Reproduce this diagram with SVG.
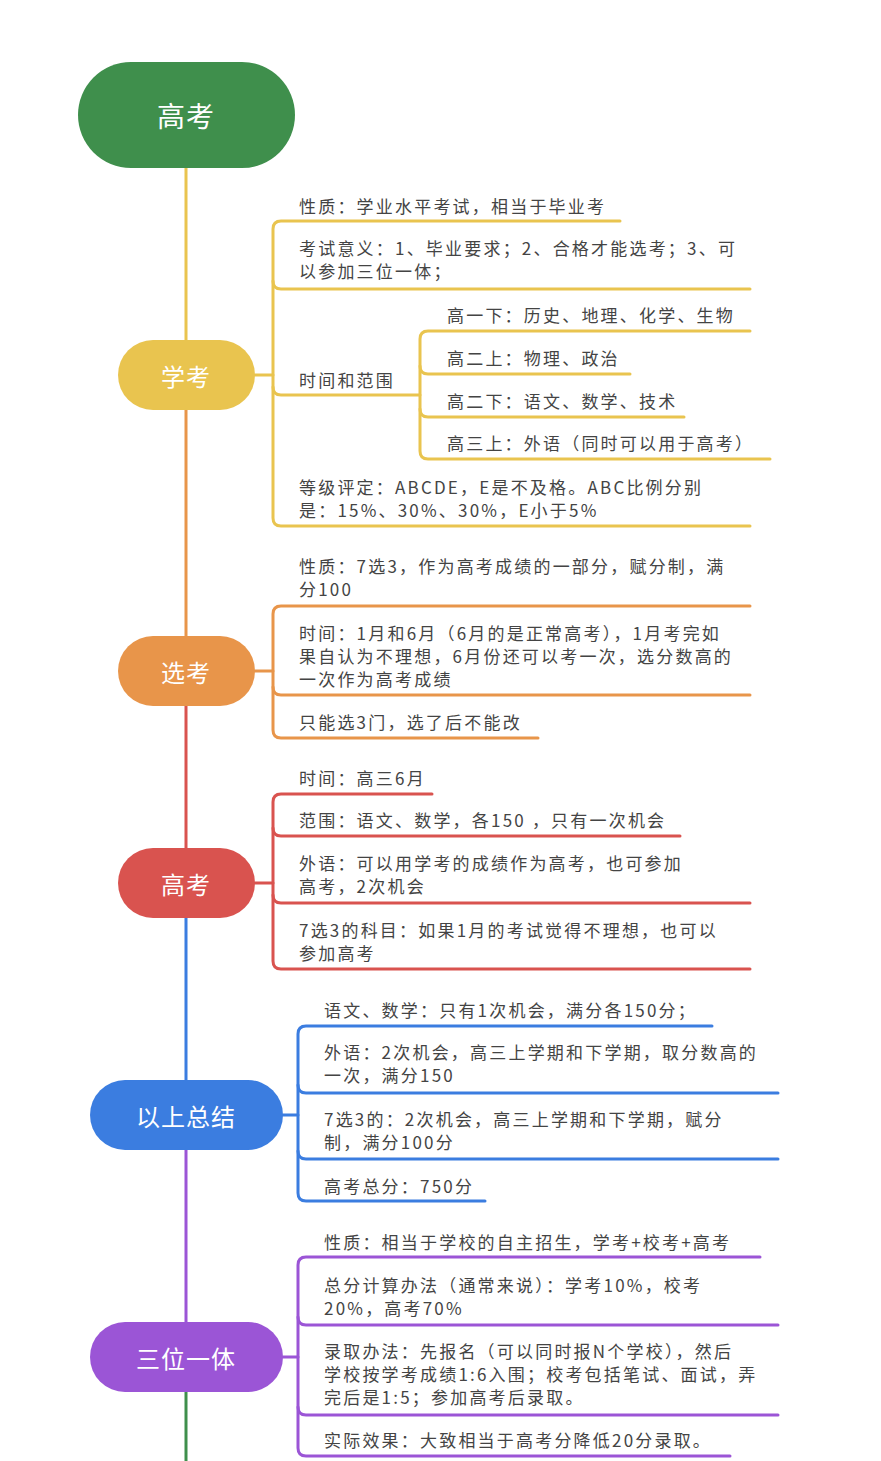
<svg xmlns="http://www.w3.org/2000/svg" width="881" height="1461" viewBox="0 0 881 1461">
<style>
text{font-family:"Noto Sans CJK SC","Noto Sans",sans-serif;font-size:17px;letter-spacing:2.2px;fill:#444}
.n{fill:#fff;font-size:24px;letter-spacing:1px;text-anchor:middle;dominant-baseline:central}
path,line{fill:none;stroke-width:3;stroke-linecap:round}
.y{stroke:#e9c44f}.o{stroke:#e8954a}.r{stroke:#d9534f}.b{stroke:#3b7de0}.p{stroke:#9b55d6}.g{stroke:#3f8f4c}
</style>
<rect width="881" height="1461" fill="#fff"/>
<g id="connectors">
<line class="y" x1="186" y1="168" x2="186" y2="340"/>
<line class="o" x1="186" y1="410" x2="186" y2="636"/>
<line class="r" x1="186" y1="706" x2="186" y2="848"/>
<line class="b" x1="186" y1="918" x2="186" y2="1080"/>
<line class="p" x1="186" y1="1150" x2="186" y2="1322"/>
<line class="g" x1="186" y1="1392" x2="186" y2="1461"/>
<line class="y" x1="255" y1="375" x2="273" y2="375"/>
<path class="y" d="M620,221 H281 Q273,221 273,229 V518 Q273,526 281,526 H750"/>
<path class="y" d="M273,281 Q273,289 281,289 H750"/>
<path class="y" d="M273,387 Q273,395 281,395 H420"/>
<path class="y" d="M750,331 H428 Q420,331 420,339 V451 Q420,459 428,459 H770"/>
<path class="y" d="M420,366 Q420,374 428,374 H630"/>
<path class="y" d="M420,409 Q420,417 428,417 H684"/>
<line class="o" x1="255" y1="671" x2="273" y2="671"/>
<path class="o" d="M750,606 H281 Q273,606 273,614 V730 Q273,738 281,738 H538"/>
<path class="o" d="M273,687 Q273,695 281,695 H750"/>
<line class="r" x1="255" y1="883" x2="273" y2="883"/>
<path class="r" d="M432,794 H281 Q273,794 273,802 V961 Q273,969 281,969 H750"/>
<path class="r" d="M273,828 Q273,836 281,836 H680"/>
<path class="r" d="M273,895 Q273,903 281,903 H750"/>
<line class="b" x1="283" y1="1115" x2="298" y2="1115"/>
<path class="b" d="M712,1026 H306 Q298,1026 298,1034 V1193 Q298,1201 306,1201 H485"/>
<path class="b" d="M298,1085 Q298,1093 306,1093 H778"/>
<path class="b" d="M298,1151 Q298,1159 306,1159 H778"/>
<line class="p" x1="283" y1="1357" x2="298" y2="1357"/>
<path class="p" d="M760,1257 H306 Q298,1257 298,1265 V1448 Q298,1456 306,1456 H730"/>
<path class="p" d="M298,1317 Q298,1325 306,1325 H778"/>
<path class="p" d="M298,1407 Q298,1415 306,1415 H778"/>
</g>
<g id="root"><rect x="78" y="62" width="217" height="106" rx="53" fill="#3f8f4c"/><text class="n" x="186" y="115" style="font-size:28px">高考</text></g>
<g id="xuekao"><rect x="118" y="340" width="137" height="70" rx="35" fill="#e9c44f"/><text class="n" x="186" y="375">学考</text></g>
<g id="xuankao"><rect x="118" y="636" width="137" height="70" rx="35" fill="#e8954a"/><text class="n" x="186" y="671">选考</text></g>
<g id="gaokao"><rect x="118" y="848" width="137" height="70" rx="35" fill="#d9534f"/><text class="n" x="186" y="883">高考</text></g>
<g id="summary"><rect x="90" y="1080" width="193" height="70" rx="35" fill="#3b7de0"/><text class="n" x="186" y="1115">以上总结</text></g>
<g id="sanwei"><rect x="90" y="1322" width="193" height="70" rx="35" fill="#9b55d6"/><text class="n" x="186" y="1357">三位一体</text></g>
<g id="texts">
<text x="299" y="213">性质：学业水平考试，相当于毕业考</text>
<text x="299" y="255">考试意义：1、毕业要求；2、合格才能选考；3、可</text>
<text x="299" y="278">以参加三位一体；</text>
<text x="299" y="387">时间和范围</text>
<text x="447" y="322">高一下：历史、地理、化学、生物</text>
<text x="447" y="365">高二上：物理、政治</text>
<text x="447" y="408">高二下：语文、数学、技术</text>
<text x="447" y="450">高三上：外语（同时可以用于高考）</text>
<text x="299" y="494">等级评定：ABCDE，E是不及格。ABC比例分别</text>
<text x="299" y="517">是：15%、30%、30%，E小于5%</text>
<text x="299" y="573">性质：7选3，作为高考成绩的一部分，赋分制，满</text>
<text x="299" y="596">分100</text>
<text x="299" y="640">时间：1月和6月（6月的是正常高考），1月考完如</text>
<text x="299" y="663">果自认为不理想，6月份还可以考一次，选分数高的</text>
<text x="299" y="686">一次作为高考成绩</text>
<text x="299" y="729">只能选3门，选了后不能改</text>
<text x="299" y="785">时间：高三6月</text>
<text x="299" y="827">范围：语文、数学，各150 ，只有一次机会</text>
<text x="299" y="870">外语：可以用学考的成绩作为高考，也可参加</text>
<text x="299" y="893">高考，2次机会</text>
<text x="299" y="937">7选3的科目：如果1月的考试觉得不理想，也可以</text>
<text x="299" y="960">参加高考</text>
<text x="324" y="1017">语文、数学：只有1次机会，满分各150分；</text>
<text x="324" y="1059">外语：2次机会，高三上学期和下学期，取分数高的</text>
<text x="324" y="1082">一次，满分150</text>
<text x="324" y="1126">7选3的：2次机会，高三上学期和下学期，赋分</text>
<text x="324" y="1149">制，满分100分</text>
<text x="324" y="1193">高考总分：750分</text>
<text x="324" y="1249">性质：相当于学校的自主招生，学考+校考+高考</text>
<text x="324" y="1292">总分计算办法（通常来说）：学考10%，校考</text>
<text x="324" y="1315">20%，高考70%</text>
<text x="324" y="1358">录取办法：先报名（可以同时报N个学校），然后</text>
<text x="324" y="1381">学校按学考成绩1:6入围；校考包括笔试、面试，弄</text>
<text x="324" y="1404">完后是1:5；参加高考后录取。</text>
<text x="324" y="1447">实际效果：大致相当于高考分降低20分录取。</text>
</g>
</svg>
